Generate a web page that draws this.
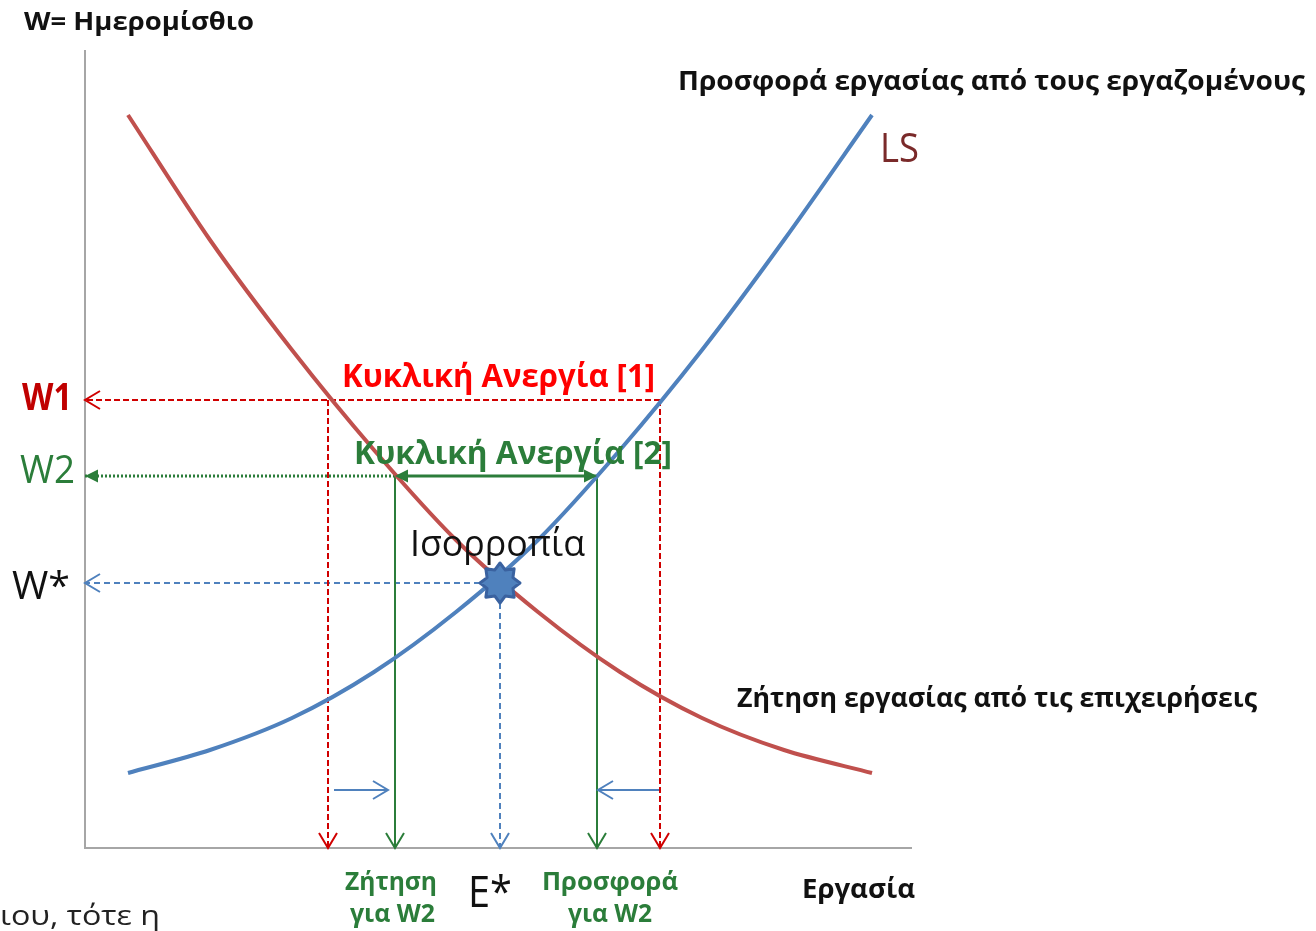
<!DOCTYPE html>
<html>
<head>
<meta charset="utf-8">
<script src="https://cdn.jsdelivr.net/npm/chart.js@4"></script>
<style>
  body { margin: 0; background: #fff; }
  canvas { display: block; }
</style>
</head>
<body>
<canvas id="myChart" width="1316" height="931"></canvas>
<script>
// labour quantity (x) and daily wage (y)
const labour = [43, 125, 207, 289, 371, 453, 535, 617, 699, 787];
const demandWage = [733, 608, 498, 398, 308, 236, 176, 130, 98, 75];
const supplyWage = [75, 98, 130, 176, 236, 308, 398, 498, 608, 733];

// wage levels
const W1 = 448;
const W2 = 372;
const Wstar = 265;

// quantities at those wages
const demandAtW1 = 243;
const supplyAtW1 = 575;
const demandAtW2 = 310;
const supplyAtW2 = 512;
const Estar = 415;

// level of the little "shift" arrows
const shiftLevel = 58;

const RED = "#C0504D";
const BLUE = "#4F81BD";
const DASH_RED = "#D00000";
const GREEN = "#2B7D3A";

const pts = (xs, ys) => xs.map((x, i) => ({ x: x, y: ys[i] }));

// 8 point star for the equilibrium
const star = document.createElement("canvas");
star.width = 50;
star.height = 50;
(function () {
    const c = star.getContext("2d");
    c.beginPath();
    for (let i = 0; i < 16; i++) {
        const r = i % 2 === 0 ? 20 : 14;
        const a = -Math.PI / 2 + (i * Math.PI) / 8;
        const px = 25 + r * Math.cos(a);
        const py = 25 + r * Math.sin(a);
        if (i === 0) c.moveTo(px, py);
        else c.lineTo(px, py);
    }
    c.closePath();
    c.fillStyle = BLUE;
    c.fill();
    c.lineWidth = 3;
    c.lineJoin = "round";
    c.strokeStyle = "#3A62A0";
    c.stroke();
})();

function guide(data, color, dash, width) {
    return {
        data: data,
        borderColor: color,
        borderWidth: width || 2,
        borderDash: dash || [],
        pointRadius: 0,
        tension: 0,
        fill: false,
    };
}

// arrow heads: tip in data units, direction, open (V) or filled
const arrows = [
    { x: 0, y: W1, dir: "left", color: DASH_RED, open: true },
    { x: demandAtW1, y: 0, dir: "down", color: DASH_RED, open: true },
    { x: supplyAtW1, y: 0, dir: "down", color: DASH_RED, open: true },
    { x: 0, y: W2, dir: "left", color: GREEN, open: false },
    { x: demandAtW2, y: W2, dir: "left", color: GREEN, open: false },
    { x: supplyAtW2, y: W2, dir: "right", color: GREEN, open: false },
    { x: demandAtW2, y: 0, dir: "down", color: GREEN, open: true },
    { x: supplyAtW2, y: 0, dir: "down", color: GREEN, open: true },
    { x: 0, y: Wstar, dir: "left", color: BLUE, open: true },
    { x: Estar, y: 0, dir: "down", color: BLUE, open: true },
    { x: demandAtW2 - 7, y: shiftLevel, dir: "right", color: BLUE, open: true },
    { x: supplyAtW2 + 1, y: shiftLevel, dir: "left", color: BLUE, open: true },
];

function label(ctx, text, x, y, w, size, weight, color) {
    ctx.save();
    ctx.font = weight + " " + size + 'px "Open Sans"';
    const m = ctx.measureText(text).width;
    ctx.translate(x, y);
    ctx.scale(w / m, 1);
    ctx.fillStyle = color;
    ctx.textAlign = "left";
    ctx.textBaseline = "alphabetic";
    ctx.fillText(text, 0, 0);
    ctx.restore();
}

const decorations = {
    id: "decorations",
    beforeDatasetsDraw(chart) {
        const { ctx, chartArea: a } = chart;
        ctx.save();
        ctx.strokeStyle = "#A6A6A6";
        ctx.lineWidth = 2;
        ctx.beginPath();
        ctx.moveTo(a.left, a.top);
        ctx.lineTo(a.left, a.bottom);
        ctx.lineTo(a.right, a.bottom);
        ctx.stroke();
        ctx.restore();
    },
    afterDatasetsDraw(chart) {
        const { ctx, scales } = chart;
        const xs = scales.x;
        const ys = scales.y;

        arrows.forEach((ar) => {
            const tx = xs.getPixelForValue(ar.x);
            const ty = ys.getPixelForValue(ar.y);
            const len = ar.open ? 15 : 13;
            const half = ar.open ? 9 : 6.5;
            let p1, p2;
            if (ar.dir === "left") { p1 = [tx + len, ty - half]; p2 = [tx + len, ty + half]; }
            if (ar.dir === "right") { p1 = [tx - len, ty - half]; p2 = [tx - len, ty + half]; }
            if (ar.dir === "down") { p1 = [tx - half, ty - len]; p2 = [tx + half, ty - len]; }
            ctx.save();
            ctx.beginPath();
            ctx.moveTo(p1[0], p1[1]);
            ctx.lineTo(tx, ty);
            ctx.lineTo(p2[0], p2[1]);
            if (ar.open) {
                ctx.strokeStyle = ar.color;
                ctx.lineWidth = 2;
                ctx.stroke();
            } else {
                ctx.closePath();
                ctx.fillStyle = ar.color;
                ctx.fill();
            }
            ctx.restore();
        });
    },
    afterDraw(chart) {
        const ctx = chart.ctx;
        const ys = chart.scales.y;
        label(ctx, "W= Ημερομίσθιο", 24, 30, 230, 25, 700, "#111");
        label(ctx, "Προσφορά εργασίας από τους εργαζομένους", 678, 90, 627, 26, 700, "#111");
        label(ctx, "LS", 880, 162, 39, 40, 400, "#7A2A2A");
        label(ctx, "Κυκλική Ανεργία [1]", 342, 387, 313, 33, 700, "#FF0000");
        label(ctx, "W1", 22, ys.getPixelForValue(W1) + 10, 50, 38, 700, "#C00000");
        label(ctx, "Κυκλική Ανεργία [2]", 354, 464, 318, 33, 700, GREEN);
        label(ctx, "W2", 20, ys.getPixelForValue(W2) + 7, 55, 38, 400, GREEN);
        label(ctx, "Ισορροπία", 410, 556, 175, 37, 400, "#111");
        label(ctx, "W*", 12, ys.getPixelForValue(Wstar) + 16, 58, 38, 400, "#111");
        label(ctx, "Ζήτηση εργασίας από τις επιχειρήσεις", 737, 707, 520, 26, 700, "#111");
        label(ctx, "Ζήτηση", 345, 890, 92, 25, 700, GREEN);
        label(ctx, "για W2", 350, 922, 85, 25, 700, GREEN);
        label(ctx, "E*", 468, 907, 44, 44, 400, "#111");
        label(ctx, "Προσφορά", 542, 890, 136, 25, 700, GREEN);
        label(ctx, "για W2", 568, 922, 84, 25, 700, GREEN);
        label(ctx, "Εργασία", 802, 898, 113, 27, 700, "#111");
        label(ctx, "ιου, τότε η", 0, 925, 160, 27, 400, "#222");
    },
};

const ctx = document.getElementById("myChart").getContext("2d");
new window.Chart(ctx, {
    type: "line",
    data: {
        datasets: [
            // guide lines (drawn under the curves)
            guide([{ x: supplyAtW1, y: W1 }, { x: 0, y: W1 }], DASH_RED, [6, 3]),
            guide([{ x: demandAtW1, y: W1 }, { x: demandAtW1, y: 0 }], DASH_RED, [6, 3]),
            guide([{ x: supplyAtW1, y: W1 }, { x: supplyAtW1, y: 0 }], DASH_RED, [6, 3]),
            guide([{ x: demandAtW2, y: W2 }, { x: 0, y: W2 }], GREEN, [2, 2], 3),
            guide([{ x: demandAtW2, y: W2 }, { x: supplyAtW2, y: W2 }], GREEN, [], 3),
            guide([{ x: demandAtW2, y: W2 }, { x: demandAtW2, y: 0 }], GREEN, [], 2),
            guide([{ x: supplyAtW2, y: W2 }, { x: supplyAtW2, y: 0 }], GREEN, [], 2),
            guide([{ x: Estar, y: Wstar }, { x: 0, y: Wstar }], BLUE, [6, 4]),
            guide([{ x: Estar, y: Wstar }, { x: Estar, y: 0 }], BLUE, [6, 4]),
            guide([{ x: demandAtW1 + 6, y: shiftLevel }, { x: demandAtW2 - 7, y: shiftLevel }], BLUE, [], 2),
            guide([{ x: supplyAtW1, y: shiftLevel }, { x: supplyAtW2 + 1, y: shiftLevel }], BLUE, [], 2),
            {
                label: "Ζήτηση εργασίας",
                data: pts(labour, demandWage),
                borderColor: RED,
                borderWidth: 4,
                pointRadius: 0,
                tension: 0.3,
                order: -1,
            },
            {
                label: "LS",
                data: pts(labour, supplyWage),
                borderColor: BLUE,
                borderWidth: 4,
                pointRadius: 0,
                tension: 0.3,
                order: -1,
            },
            {
                label: "Ισορροπία",
                data: [{ x: Estar, y: Wstar }],
                pointStyle: star,
                pointRadius: 22,
                showLine: false,
                order: -2,
            },
        ],
    },
    options: {
        responsive: false,
        animation: false,
        layout: {
            padding: { left: 85, top: 50, right: 404, bottom: 83 },
        },
        plugins: {
            legend: { display: false },
            tooltip: { enabled: false },
        },
        scales: {
            x: { type: "linear", min: 0, max: 827, display: false },
            y: { type: "linear", min: 0, max: 798, display: false },
        },
    },
    plugins: [decorations],
});
</script>
</body>
</html>
